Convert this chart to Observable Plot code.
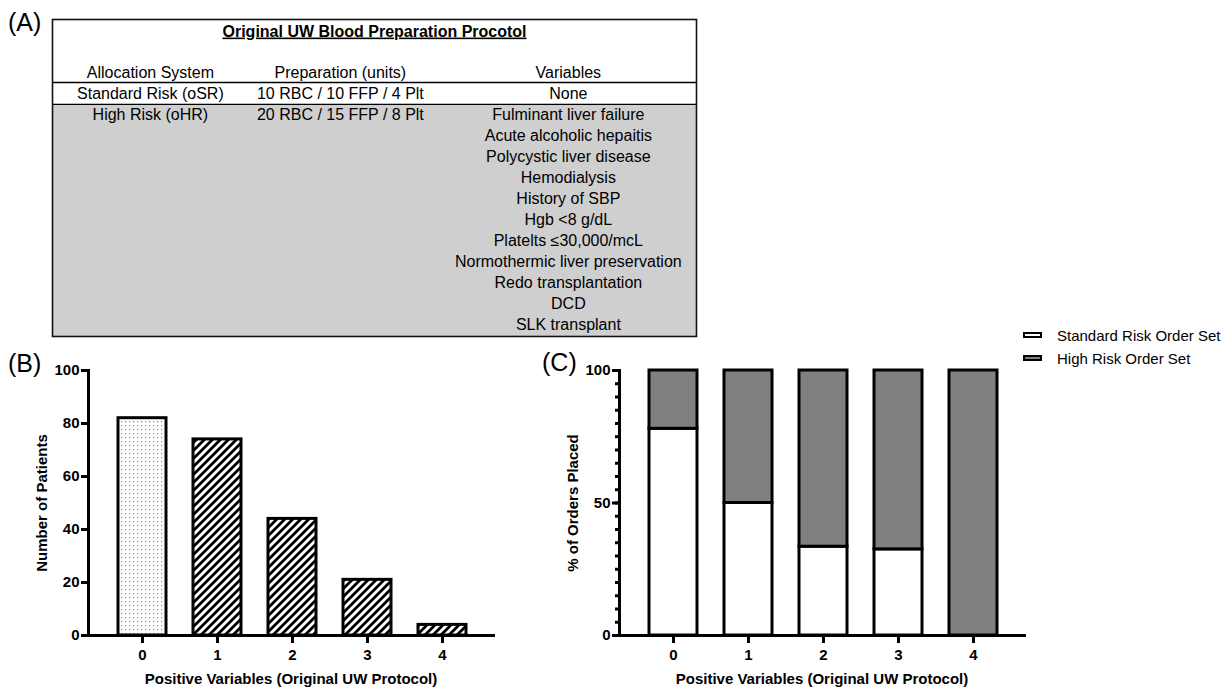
<!DOCTYPE html>
<html><head><meta charset="utf-8">
<script src="https://cdn.jsdelivr.net/npm/d3@7"></script>
<script src="https://cdn.jsdelivr.net/npm/@observablehq/plot@0.6"></script>
<style>
body{margin:0;background:#fff;}
#fig{position:relative;width:1226px;height:687px;overflow:hidden;font-family:"Liberation Sans",Arial,sans-serif;color:#000;background:#fff;}
.panel{position:absolute;}
.plabel{position:absolute;font-size:25px;line-height:25px;}
.lrow{position:absolute;left:1023px;height:18px;display:flex;align-items:center;white-space:nowrap;font-size:15px;}
.sw{width:15px;height:2px;border:2.5px solid #000;margin-right:15px;}
</style></head>
<body><div id="fig"></div>
<script>
// ---------- data ----------
const tableTitle = "Original UW Blood Preparation Procotol";
const columns = ["Allocation System", "Preparation (units)", "Variables"];
const allocationSystems = ["Standard Risk (oSR)", "High Risk (oHR)"];
const preparations = ["10 RBC / 10 FFP / 4 Plt", "20 RBC / 15 FFP / 8 Plt"];
const standardVariables = ["None"];
const highRiskVariables = [
  "Fulminant liver failure", "Acute alcoholic hepaitis", "Polycystic liver disease",
  "Hemodialysis", "History of SBP", "Hgb <8 g/dL", "Platelts \u226430,000/mcL",
  "Normothermic liver preservation", "Redo transplantation", "DCD", "SLK transplant"
];
const positiveVariables = ["0", "1", "2", "3", "4"];
const numberOfPatients = [82, 74, 44, 21, 4];
const orderSets = ["Standard Risk Order Set", "High Risk Order Set"];
const standardRiskPct = [78, 50, 33.5, 32.5, 0];
const highRiskPct = [22, 50, 66.5, 67.5, 100];
const countTicks = [0, 20, 40, 60, 80, 100];
const pctTicks = [0, 50, 100];
const pctMinorTicks = [0,5,10,15,20,25,30,35,40,45,50,55,60,65,70,75,80,85,90,95,100];
const xLabel = "Positive Variables (Original UW Protocol)";

// ---------- layout (not data) ----------
const columnCenter = {"Allocation System": 0.152, "Preparation (units)": 0.447, "Variables": 0.801};

// ---------- helpers ----------
const fig = document.getElementById("fig");
const FONT = "'Liberation Sans', Arial, sans-serif";
const baseStyle = {fontFamily: FONT, fontSize: "15px", color: "#000", background: "transparent", overflow: "visible"};
function place(el, left, top) { el.classList.add("panel"); el.style.left = left + "px"; el.style.top = top + "px"; fig.appendChild(el); }
function label(txt, left, top) { const d = document.createElement("div"); d.className = "plabel"; d.textContent = txt; d.style.left = left + "px"; d.style.top = top + "px"; fig.appendChild(d); }

// ---------- Panel A: table ----------
const cells = [];
columns.forEach(c => cells.push({col: c, row: -1, text: c}));
cells.push({col: columns[0], row: 0, text: allocationSystems[0]});
cells.push({col: columns[1], row: 0, text: preparations[0]});
cells.push({col: columns[2], row: 0, text: standardVariables[0]});
cells.push({col: columns[0], row: 1, text: allocationSystems[1]});
cells.push({col: columns[1], row: 1, text: preparations[1]});
highRiskVariables.forEach((v, i) => cells.push({col: columns[2], row: 1 + i, text: v}));

const tableA = Plot.plot({
  width: 700, height: 345,
  marginLeft: 52, marginRight: 4, marginTop: 19, marginBottom: 9,
  x: {domain: [0, 1], axis: null},
  y: {domain: [-3.52, 11.57], reverse: true, axis: null},
  style: {...baseStyle, fontSize: "16px"},
  marks: [
    Plot.rect([0], {y1: 0.52, y2: 11.57, fill: "#cfcfcf"}),
    Plot.ruleY([-0.52, 0.52], {stroke: "#000", strokeWidth: 1.3}),
    Plot.frame({stroke: "#111", strokeWidth: 1.6}),
    Plot.text([tableTitle], {y: -3, dy: 1, text: d => d, fontWeight: "bold", fontSize: 16, fill: "#000"}),
    Plot.text(cells, {x: d => columnCenter[d.col], y: "row", text: "text", fontSize: 16, fill: "#000"})
  ]
});
d3.select(tableA).selectAll("text")
  .filter(function() { return this.textContent === tableTitle; })
  .attr("text-decoration", "underline")
  .style("text-decoration", "underline");
place(tableA, 0, 0);
label("(A)", 8, 10);

// ---------- Panel B ----------
const barsB = positiveVariables.map((k, i) => ({k, n: numberOfPatients[i]}));
const xOpts = {type: "band", domain: positiveVariables, range: [118, 466], paddingInner: 0.36, paddingOuter: 0, align: 0.5};
const chartB = Plot.plot({
  width: 520, height: 347,
  marginLeft: 88, marginRight: 27, marginTop: 30, marginBottom: 52,
  x: xOpts,
  y: {domain: [0, 100]},
  style: baseStyle,
  marks: [
    Plot.barY(barsB.filter(d => d.k === positiveVariables[0]), {x: "k", y: "n", fill: "url(#dotsB)", stroke: "#000", strokeWidth: 3}),
    Plot.barY(barsB.filter(d => d.k !== positiveVariables[0]), {x: "k", y: "n", fill: "url(#hatchB)", stroke: "#000", strokeWidth: 3}),
    Plot.axisY({ticks: countTicks, tickSize: 7, tickPadding: 2, strokeWidth: 3, fontWeight: "bold", fontSize: 15, label: null}),
    Plot.axisX({tickSize: 8, tickPadding: 6, strokeWidth: 3, fontWeight: "bold", fontSize: 15, label: null}),
    Plot.frame({anchor: "left", stroke: "#000", strokeWidth: 3, strokeLinecap: "square"}),
    Plot.frame({anchor: "bottom", stroke: "#000", strokeWidth: 3, strokeLinecap: "square"}),
    Plot.text(["Number of Patients"], {frameAnchor: "left", rotate: -90, dx: -46, textAnchor: "middle", lineAnchor: "middle", text: d => d, fontWeight: "bold", fontSize: 15, fill: "#000"}),
    Plot.text([xLabel], {frameAnchor: "bottom", dy: 44, lineAnchor: "middle", textAnchor: "middle", text: d => d, fontWeight: "bold", fontSize: 15, fill: "#000"})
  ]
});
d3.select(chartB).insert("defs", ":first-child").html(
  '<pattern id="dotsB" patternUnits="userSpaceOnUse" width="4" height="4"><rect width="4" height="4" fill="#fff"/><rect x="1" y="1" width="1.2" height="1.2" fill="#8a8a8a"/></pattern>' +
  '<pattern id="hatchB" patternUnits="userSpaceOnUse" width="8" height="8"><rect width="8" height="8" fill="#fff"/><path d="M-2,2 L2,-2 M0,8 L8,0 M6,10 L10,6" stroke="#000" stroke-width="2.8"/></pattern>'
);
place(chartB, 0, 340);
label("(B)", 8, 351);

// ---------- Panel C ----------
const stackC = [];
positiveVariables.forEach((k, i) => {
  stackC.push({k, set: orderSets[0], pct: standardRiskPct[i]});
  stackC.push({k, set: orderSets[1], pct: highRiskPct[i]});
});
const chartC = Plot.plot({
  width: 520, height: 347,
  marginLeft: 88, marginRight: 27, marginTop: 30, marginBottom: 52,
  x: xOpts,
  y: {domain: [0, 100]},
  color: {domain: orderSets, range: ["#ffffff", "#808080"]},
  style: baseStyle,
  marks: [
    Plot.barY(stackC, {x: "k", y: "pct", fill: "set", stroke: "#000", strokeWidth: 3}),
    Plot.axisY({ticks: pctMinorTicks, tickSize: 4, tickFormat: () => "", strokeWidth: 3, label: null}),
    Plot.axisY({ticks: pctTicks, tickSize: 7, tickPadding: 2, strokeWidth: 3, fontWeight: "bold", fontSize: 15, label: null}),
    Plot.axisX({tickSize: 8, tickPadding: 6, strokeWidth: 3, fontWeight: "bold", fontSize: 15, label: null}),
    Plot.frame({anchor: "left", stroke: "#000", strokeWidth: 3, strokeLinecap: "square"}),
    Plot.frame({anchor: "bottom", stroke: "#000", strokeWidth: 3, strokeLinecap: "square"}),
    Plot.text(["% of Orders Placed"], {frameAnchor: "left", rotate: -90, dx: -46, textAnchor: "middle", lineAnchor: "middle", text: d => d, fontWeight: "bold", fontSize: 15, fill: "#000"}),
    Plot.text([xLabel], {frameAnchor: "bottom", dy: 44, lineAnchor: "middle", textAnchor: "middle", text: d => d, fontWeight: "bold", fontSize: 15, fill: "#000"})
  ]
});
place(chartC, 531, 340);
label("(C)", 542, 350);

// ---------- Legend ----------
const legendFills = ["#ffffff", "#808080"];
orderSets.forEach((s, i) => {
  const row = document.createElement("div");
  row.className = "lrow";
  row.style.top = (326 + i * 23) + "px";
  const sw = document.createElement("span");
  sw.className = "sw";
  sw.style.background = legendFills[i];
  const t = document.createElement("span");
  t.textContent = s;
  row.appendChild(sw); row.appendChild(t);
  fig.appendChild(row);
});
</script>
</body></html>
